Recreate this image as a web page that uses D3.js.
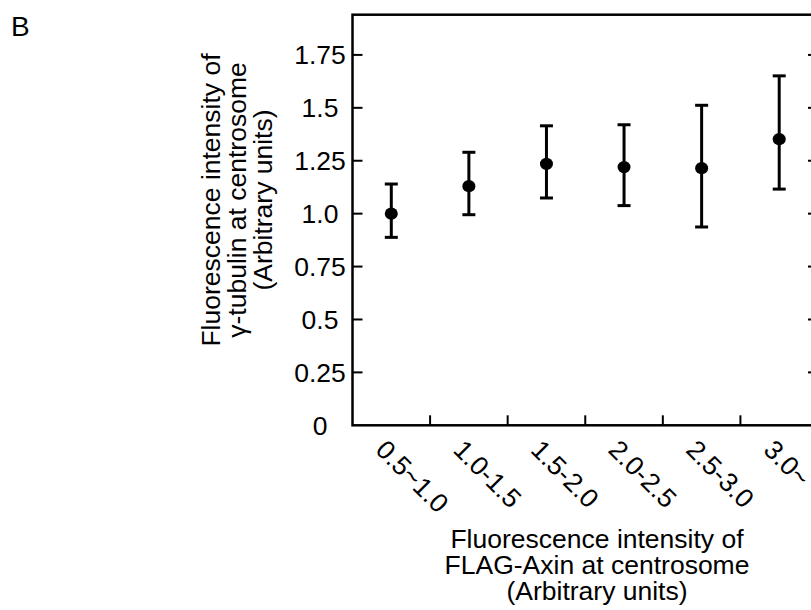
<!DOCTYPE html>
<html>
<head>
<meta charset="utf-8">
<script src="https://cdn.jsdelivr.net/npm/d3@7"></script>
<style>
  body { margin: 0; background: #fff; }
  text { font-family: "Liberation Sans", Arial, Helvetica, sans-serif; fill: #000; }
</style>
</head>
<body>
<svg width="811" height="610"></svg>
<script>
// categories on x (FLAG-Axin intensity bins)
const categories = ["0.5~1.0", "1.0-1.5", "1.5-2.0", "2.0-2.5", "2.5-3.0", "3.0~"];
// gamma-tubulin mean and error bar ends
const means = [1.0, 1.13, 1.235, 1.22, 1.215, 1.352];
const upper = [1.14, 1.29, 1.415, 1.42, 1.512, 1.651];
const lower = [0.888, 0.995, 1.074, 1.038, 0.937, 1.116];
// y tick values and labels
const yTicks = [0, 0.25, 0.5, 0.75, 1.0, 1.25, 1.5, 1.75];
const yTickLabels = ["0", "0.25", "0.5", "0.75", "1.0", "1.25", "1.5", "1.75"];

const yTitle = ["Fluorescence intensity of", "\u03b3-tubulin at centrosome", "(Arbitrary units)"];
const xTitle = ["Fluorescence intensity of", "FLAG-Axin at centrosome", "(Arbitrary units)"];

const data = categories.map((c, i) => ({ cat: c, mean: means[i], hi: upper[i], lo: lower[i] }));

const svg = d3.select("svg");
const fs = 26.5;

// plot box (right edge runs off the page, like the original)
const boxL = 352.5, boxR = 818, boxT = 14.7, boxB = 425.3;

const x = d3.scaleBand().domain(categories).range([boxL, boxR]).padding(0);
const y = d3.scaleLinear().domain([0, 1.94]).range([boxB, boxT]);
const cx = d => x(d) + x.bandwidth() / 2;

const g = svg.append("g");

// frame
g.append("rect")
  .attr("x", boxL).attr("y", boxT)
  .attr("width", boxR - boxL).attr("height", boxB - boxT)
  .attr("fill", "none").attr("stroke", "#000").attr("stroke-width", 2.5);

// inward ticks on left and right
const tickLen = 10;
g.append("g").selectAll("line")
  .data(yTicks.filter(d => d > 0))
  .join("line")
  .attr("x1", boxL).attr("x2", boxL + tickLen)
  .attr("y1", d => y(d)).attr("y2", d => y(d))
  .attr("stroke", "#000").attr("stroke-width", 2);

g.append("g").selectAll("line")
  .data(yTicks.filter(d => d > 0))
  .join("line")
  .attr("x1", boxR - tickLen).attr("x2", boxR)
  .attr("y1", d => y(d)).attr("y2", d => y(d))
  .attr("stroke", "#000").attr("stroke-width", 2);

// bottom ticks at the band boundaries
g.append("g").selectAll("line")
  .data(categories.slice(1))
  .join("line")
  .attr("x1", d => x(d)).attr("x2", d => x(d))
  .attr("y1", boxB).attr("y2", boxB - tickLen)
  .attr("stroke", "#000").attr("stroke-width", 2);

// y tick labels, centred in their column
g.append("g").selectAll("text")
  .data(yTicks)
  .join("text")
  .attr("x", 320)
  .attr("y", d => y(d) + 9.5)
  .attr("text-anchor", "middle")
  .style("font-size", fs + "px")
  .text((d, i) => yTickLabels[i]);

// x tick labels, rotated 45 deg
g.append("g").selectAll("text")
  .data(categories)
  .join("text")
  .attr("transform", d => `translate(${cx(d) - 17},${boxB + 26}) rotate(45)`)
  .style("font-size", fs + "px")
  .text(d => d);

// error bars
const capW = 13;
const bars = g.append("g").selectAll("g")
  .data(data)
  .join("g")
  .attr("stroke", "#000")
  .attr("stroke-width", 3);

bars.append("line")
  .attr("x1", d => cx(d.cat)).attr("x2", d => cx(d.cat))
  .attr("y1", d => y(d.lo)).attr("y2", d => y(d.hi));
bars.append("line")
  .attr("x1", d => cx(d.cat) - capW / 2).attr("x2", d => cx(d.cat) + capW / 2)
  .attr("y1", d => y(d.hi)).attr("y2", d => y(d.hi));
bars.append("line")
  .attr("x1", d => cx(d.cat) - capW / 2).attr("x2", d => cx(d.cat) + capW / 2)
  .attr("y1", d => y(d.lo)).attr("y2", d => y(d.lo));

// mean dots
g.append("g").selectAll("ellipse")
  .data(data)
  .join("ellipse")
  .attr("cx", d => cx(d.cat))
  .attr("cy", d => y(d.mean))
  .attr("rx", 6.5).attr("ry", 6.2)
  .attr("fill", "#000");

// y axis title (three lines, rotated)
const yt = svg.append("text")
  .attr("transform", "translate(220,200) rotate(-90)")
  .attr("text-anchor", "middle")
  .style("font-size", fs + "px");
yTitle.forEach((s, i) => {
  yt.append("tspan").attr("x", 0).attr("y", i * 26).text(s);
});

// x axis title
const xt = svg.append("text")
  .attr("text-anchor", "middle")
  .style("font-size", fs + "px");
xTitle.forEach((s, i) => {
  xt.append("tspan").attr("x", 597).attr("y", 548 + i * 26).text(s);
});

// panel letter
svg.append("text")
  .attr("x", 11).attr("y", 36)
  .style("font-size", "28px")
  .text("B");
</script>
</body>
</html>
